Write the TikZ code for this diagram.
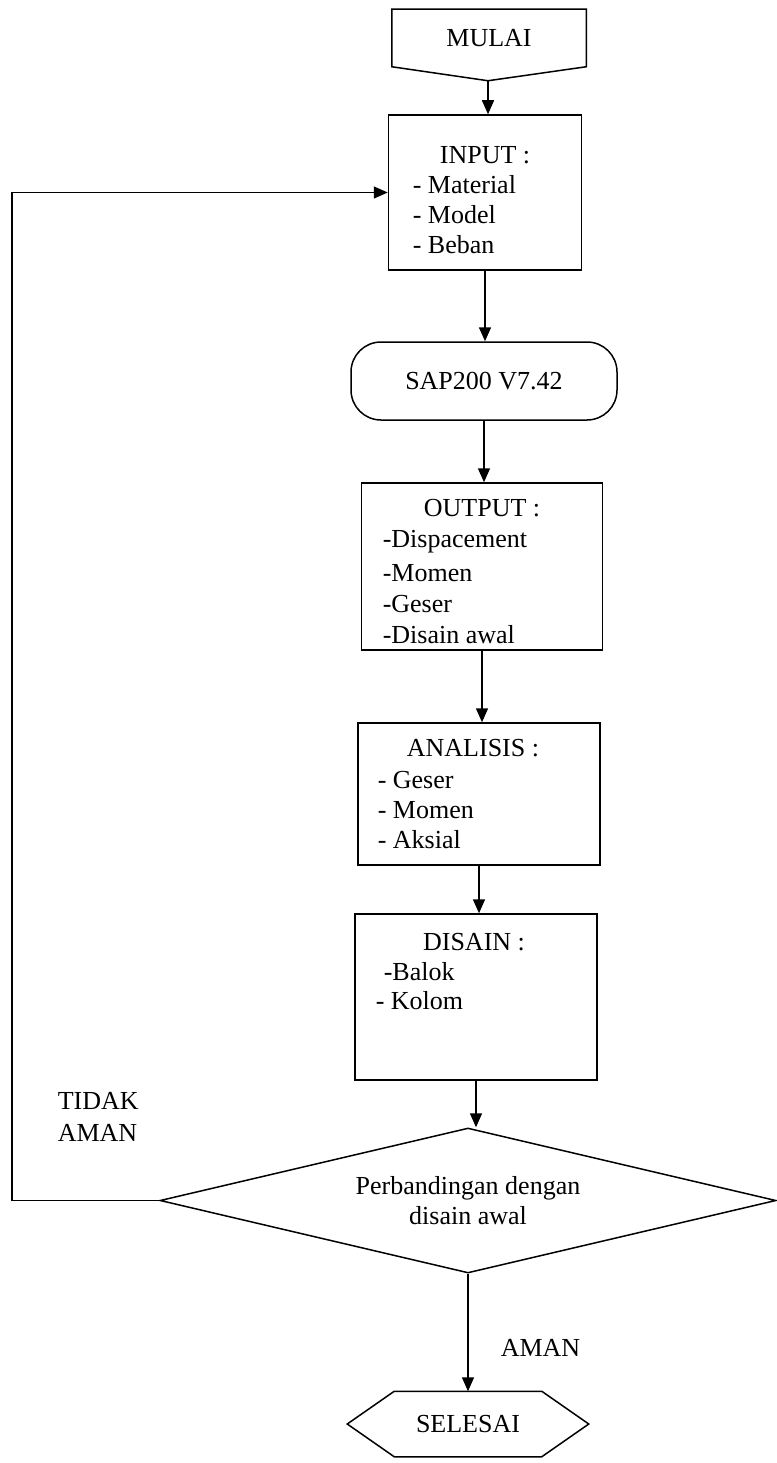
\documentclass[tikz,border=0pt]{standalone}
\usepackage{fontspec}
\setmainfont{Liberation Serif}
\usetikzlibrary{shapes.geometric,arrows.meta,calc,positioning}

\begin{document}
\begin{tikzpicture}[x=1pt,y=-1pt,>={Triangle[length=14pt,width=12pt]},line width=1.5pt,
    every node/.style={font=\fontsize{26}{30}\selectfont},
    box/.style={draw,rectangle,inner sep=0pt},
    item/.style={anchor=west,inner sep=0pt}]
    \useasboundingbox (0,0) rectangle (776,1463);

    % Start connector
    \node[minimum width=193pt,minimum height=56pt,inner sep=0pt] (mulai) at (489,38) {MULAI};
    \coordinate (mulaitip) at ($(mulai.south)+(-1,14)$);
    \draw (mulai.north west) -- (mulai.north east) -- (mulai.south east) -- (mulaitip) -- (mulai.south west) -- cycle;

    % Input box
    \node[box,minimum width=193pt,minimum height=155pt] (input) at (485,192.5) {};
    \node (inT) at (485,155) {INPUT :};
    \foreach \t[count=\i] in {- Material,- Model,- Beban}{
        \node[item] (in\i) at (412,{155+30*\i}) {\t};
    }

    % Program
    \node[box,rounded corners=30pt,minimum width=266pt,minimum height=78pt] (sap) at (484,381) {SAP200 V7.42};

    % Output box
    \node[box,minimum width=241pt,minimum height=167pt] (output) at (482,566.5) {};
    \node (outT) at (482,508) {OUTPUT :};
    \foreach \t[count=\i] in {-Dispacement,-Momen,-Geser,-Disain awal}{
        \node[item] (out\i) at (382,{511+31*\i}) {\t};
    }

    % Analysis box
    \node[box,minimum width=242pt,minimum height=142pt] (analisis) at (479,794) {};
    \node (anT) at (473,748) {ANALISIS :};
    \foreach \t[count=\i] in {- Geser,- Momen,- Aksial}{
        \node[item] (an\i) at (377,{750+30*\i}) {\t};
    }

    % Design box
    \node[box,minimum width=242pt,minimum height=166pt] (disain) at (476,997) {};
    \node (dsT) at (474,942) {DISAIN :};
    \node[item] (ds1) at (383,972) {-Balok};
    \node[item] (ds2) at (375,1001) {- Kolom};

    % Decision
    \node[diamond,draw,shape aspect=4.25,minimum width=616pt,minimum height=145pt,inner sep=0pt,align=center] (dec) at (468,1200.5) {Perbandingan dengan\\disain awal};

    % End connector
    \node[minimum width=146pt,minimum height=64pt,inner sep=0pt] (selesai) at (468,1424) {SELESAI};
    \draw ($(selesai.west)+(-47,0)$) -- (selesai.north west) -- (selesai.north east) -- ($(selesai.east)+(47,0)$) -- (selesai.south east) -- (selesai.south west) -- cycle;

    % Branch labels
    \node[anchor=north west,align=left,inner sep=0pt] (tidak) at (57,1092) {TIDAK\\[2pt]AMAN};
    \node[item] (aman) at (500,1348) {AMAN};

    % Main flow
    \draw[->] (mulaitip) -- (mulaitip |- input.north);
    \foreach \a/\b in {input/sap,sap/output,output/analisis,analisis/disain,disain/dec,dec/selesai}{
        \draw[->] (\a.south) -- (\a.south |- \b.north);
    }

    % Back to input
    \coordinate (back) at (12,1200.5);
    \draw[->] (dec.west) -- (back) |- (input.west);
\end{tikzpicture}
\end{document}
